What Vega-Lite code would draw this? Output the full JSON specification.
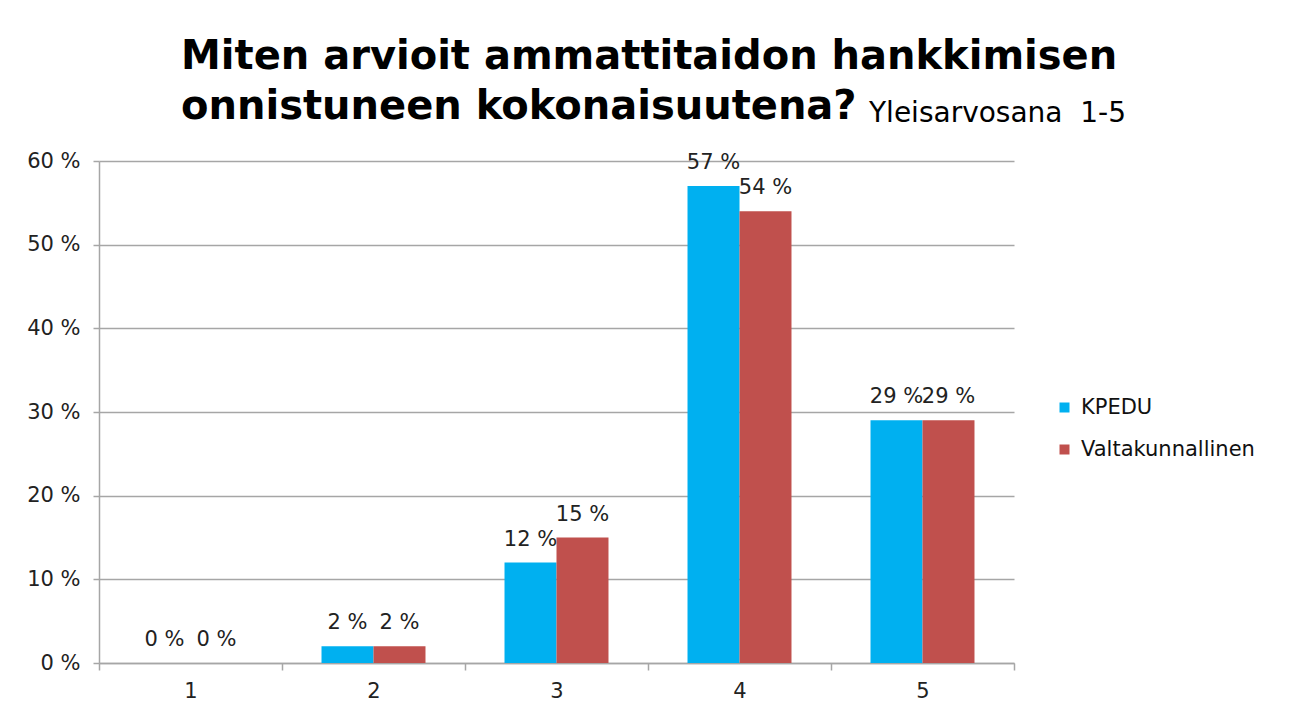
{
  "$schema": "https://vega.github.io/schema/vega-lite/v6.json",
  "width": 915,
  "height": 502,
  "autosize": {"type": "none"},
  "padding": {"left": 99, "top": 161, "right": 286, "bottom": 57},
  "background": "white",
  "title": {
    "text": ["Miten arvioit ammattitaidon hankkimisen", "onnistuneen kokonaisuutena?"],
    "subtitle": "Yleisarvosana\u00a0\u00a01-5",
    "anchor": "start",
    "frame": "group",
    "align": "left",
    "font": "DejaVu Sans",
    "fontSize": 40,
    "fontWeight": "bold",
    "lineHeight": 50,
    "color": "#000000",
    "subtitleFont": "DejaVu Sans",
    "subtitleFontSize": 28,
    "subtitleFontWeight": "normal",
    "subtitleColor": "#000000",
    "subtitlePadding": -27,
    "dx": 770,
    "offset": 22,
    "encoding": {"dx": {"value": 82}}
  },
  "data": {
    "values": [
      {"grade": "1", "group": "KPEDU", "value": 0},
      {"grade": "1", "group": "Valtakunnallinen", "value": 0},
      {"grade": "2", "group": "KPEDU", "value": 2},
      {"grade": "2", "group": "Valtakunnallinen", "value": 2},
      {"grade": "3", "group": "KPEDU", "value": 12},
      {"grade": "3", "group": "Valtakunnallinen", "value": 15},
      {"grade": "4", "group": "KPEDU", "value": 57},
      {"grade": "4", "group": "Valtakunnallinen", "value": 54},
      {"grade": "5", "group": "KPEDU", "value": 29},
      {"grade": "5", "group": "Valtakunnallinen", "value": 29}
    ]
  },
  "transform": [{"calculate": "datum.value + ' %'", "as": "label"}],
  "encoding": {
    "x": {
      "field": "grade",
      "type": "nominal",
      "scale": {"paddingInner": 0, "paddingOuter": 0},
      "axis": {
        "title": null,
        "labelAngle": 0,
        "tickBand": "extent",
        "tickSize": 7,
        "tickColor": "#a6a6a6",
        "tickWidth": 1.5,
        "domainColor": "#a6a6a6",
        "domainWidth": 1.5,
        "labelFont": "DejaVu Sans",
        "labelFontSize": 21,
        "labelColor": "#222222",
        "labelPadding": 10,
        "grid": false
      }
    },
    "xOffset": {
      "field": "group",
      "type": "nominal",
      "sort": ["KPEDU", "Valtakunnallinen"],
      "scale": {"paddingInner": 0, "paddingOuter": 0.76}
    },
    "y": {
      "field": "value",
      "type": "quantitative",
      "scale": {"domain": [0, 60], "nice": false},
      "axis": {
        "title": null,
        "values": [0, 10, 20, 30, 40, 50, 60],
        "labelExpr": "datum.value + ' %'",
        "labelFont": "DejaVu Sans",
        "labelFontSize": 21,
        "labelColor": "#222222",
        "labelPadding": 13,
        "tickSize": 6,
        "tickColor": "#a6a6a6",
        "tickWidth": 1.5,
        "domainColor": "#a6a6a6",
        "domainWidth": 1.5,
        "gridColor": "#a6a6a6",
        "gridWidth": 1.5
      }
    }
  },
  "layer": [
    {
      "mark": {"type": "bar"},
      "encoding": {
        "color": {
          "field": "group",
          "type": "nominal",
          "sort": ["KPEDU", "Valtakunnallinen"],
          "scale": {"domain": ["KPEDU", "Valtakunnallinen"], "range": ["#00B0F0", "#C0504D"]},
          "legend": {
            "title": null,
            "orient": "none",
            "legendX": 955,
            "legendY": 236,
            "symbolType": "square",
            "symbolSize": 100,
            "symbolStrokeWidth": 0,
            "labelFont": "DejaVu Sans",
            "labelFontSize": 21,
            "labelColor": "#111111",
            "labelOffset": 6,
            "labelLimit": 400,
            "rowPadding": 20
          }
        }
      }
    },
    {
      "mark": {"type": "text", "baseline": "alphabetic", "dy": -17, "font": "DejaVu Sans", "fontSize": 21, "color": "#222222"},
      "encoding": {"text": {"field": "label"}}
    }
  ],
  "config": {"view": {"stroke": null}}
}
